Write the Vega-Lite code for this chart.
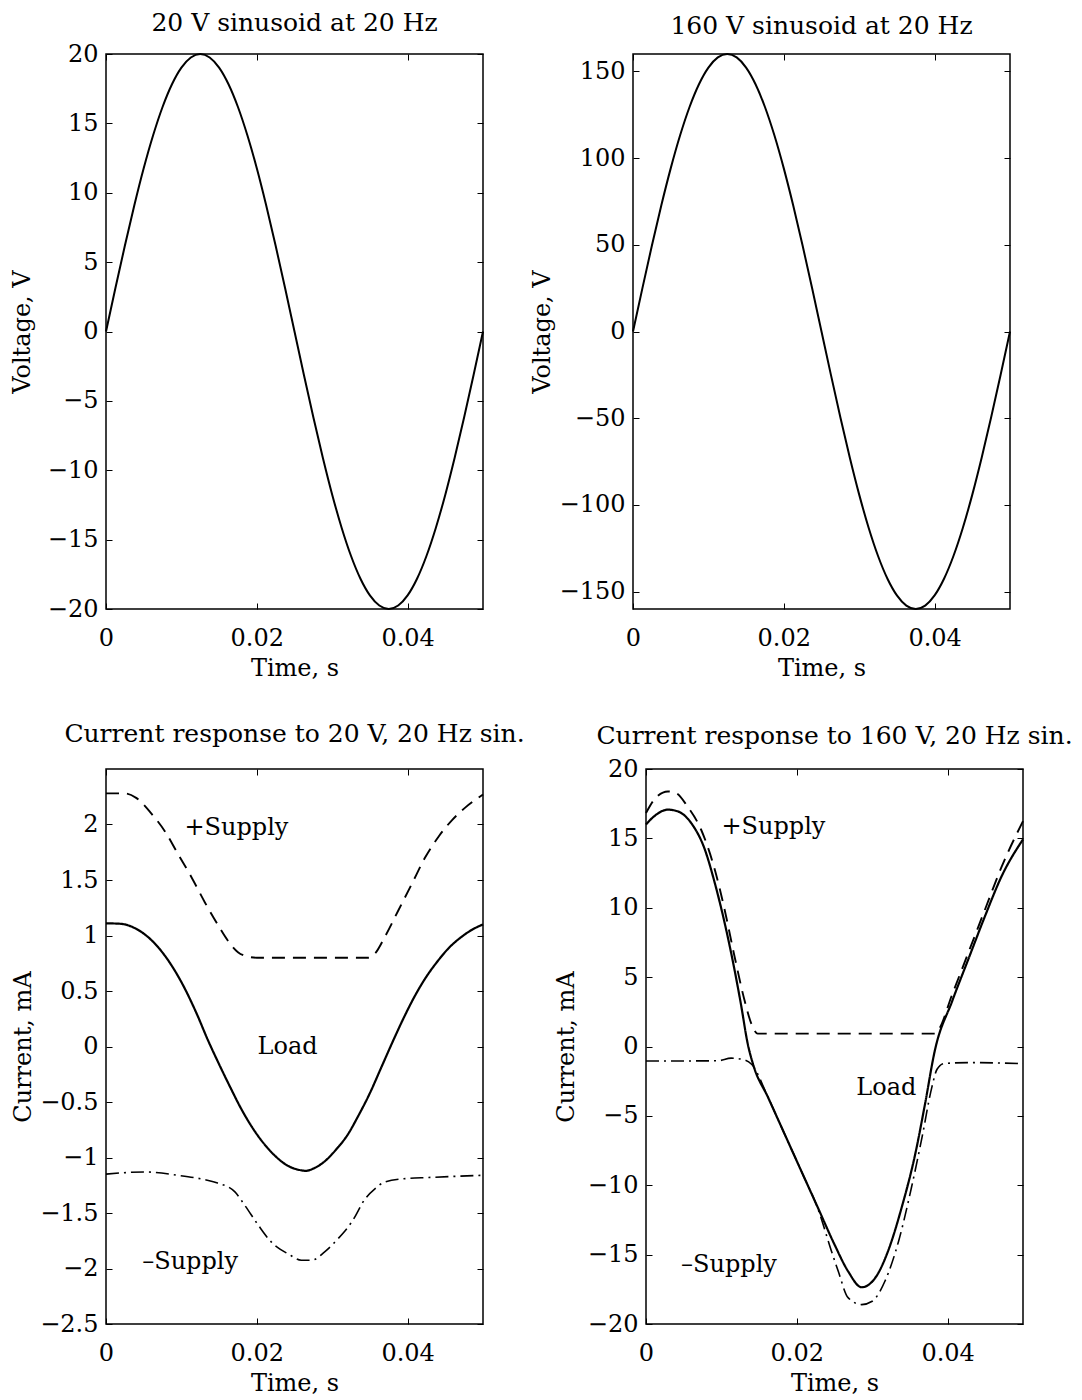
{
  "$schema": "https://vega.github.io/schema/vega-lite/v6.json",
  "background": "white",
  "padding": {"left": 9, "top": 10, "right": 0, "bottom": 0},
  "datasets": {
    "sine": [
      {"t": 0, "v20": 0, "v160": 0},
      {"t": 0.00125, "v20": 3.13, "v160": 25.03},
      {"t": 0.0025, "v20": 6.18, "v160": 49.44},
      {"t": 0.00375, "v20": 9.08, "v160": 72.64},
      {"t": 0.005, "v20": 11.76, "v160": 94.05},
      {"t": 0.00625, "v20": 14.14, "v160": 113.14},
      {"t": 0.0075, "v20": 16.18, "v160": 129.44},
      {"t": 0.00875, "v20": 17.82, "v160": 142.56},
      {"t": 0.01, "v20": 19.02, "v160": 152.17},
      {"t": 0.01125, "v20": 19.75, "v160": 158.03},
      {"t": 0.0125, "v20": 20, "v160": 160},
      {"t": 0.01375, "v20": 19.75, "v160": 158.03},
      {"t": 0.015, "v20": 19.02, "v160": 152.17},
      {"t": 0.01625, "v20": 17.82, "v160": 142.56},
      {"t": 0.0175, "v20": 16.18, "v160": 129.44},
      {"t": 0.01875, "v20": 14.14, "v160": 113.14},
      {"t": 0.02, "v20": 11.76, "v160": 94.05},
      {"t": 0.02125, "v20": 9.08, "v160": 72.64},
      {"t": 0.0225, "v20": 6.18, "v160": 49.44},
      {"t": 0.02375, "v20": 3.13, "v160": 25.03},
      {"t": 0.025, "v20": 0, "v160": 0},
      {"t": 0.02625, "v20": -3.13, "v160": -25.03},
      {"t": 0.0275, "v20": -6.18, "v160": -49.44},
      {"t": 0.02875, "v20": -9.08, "v160": -72.64},
      {"t": 0.03, "v20": -11.76, "v160": -94.05},
      {"t": 0.03125, "v20": -14.14, "v160": -113.14},
      {"t": 0.0325, "v20": -16.18, "v160": -129.44},
      {"t": 0.03375, "v20": -17.82, "v160": -142.56},
      {"t": 0.035, "v20": -19.02, "v160": -152.17},
      {"t": 0.03625, "v20": -19.75, "v160": -158.03},
      {"t": 0.0375, "v20": -20, "v160": -160},
      {"t": 0.03875, "v20": -19.75, "v160": -158.03},
      {"t": 0.04, "v20": -19.02, "v160": -152.17},
      {"t": 0.04125, "v20": -17.82, "v160": -142.56},
      {"t": 0.0425, "v20": -16.18, "v160": -129.44},
      {"t": 0.04375, "v20": -14.14, "v160": -113.14},
      {"t": 0.045, "v20": -11.76, "v160": -94.05},
      {"t": 0.04625, "v20": -9.08, "v160": -72.64},
      {"t": 0.0475, "v20": -6.18, "v160": -49.44},
      {"t": 0.04875, "v20": -3.13, "v160": -25.03},
      {"t": 0.05, "v20": 0, "v160": 0}
    ],
    "cur20": [
      {"t": 0, "i": 1.11, "s": "Load"},
      {"t": 0.002, "i": 1.105, "s": "Load"},
      {"t": 0.004, "i": 1.06, "s": "Load"},
      {"t": 0.006, "i": 0.96, "s": "Load"},
      {"t": 0.008, "i": 0.80, "s": "Load"},
      {"t": 0.01, "i": 0.58, "s": "Load"},
      {"t": 0.012, "i": 0.30, "s": "Load"},
      {"t": 0.0135, "i": 0.06, "s": "Load"},
      {"t": 0.015, "i": -0.16, "s": "Load"},
      {"t": 0.0165, "i": -0.37, "s": "Load"},
      {"t": 0.018, "i": -0.57, "s": "Load"},
      {"t": 0.0195, "i": -0.74, "s": "Load"},
      {"t": 0.021, "i": -0.88, "s": "Load"},
      {"t": 0.0225, "i": -0.99, "s": "Load"},
      {"t": 0.024, "i": -1.07, "s": "Load"},
      {"t": 0.0255, "i": -1.11, "s": "Load"},
      {"t": 0.0265, "i": -1.12, "s": "Load"},
      {"t": 0.0275, "i": -1.10, "s": "Load"},
      {"t": 0.029, "i": -1.035, "s": "Load"},
      {"t": 0.0305, "i": -0.93, "s": "Load"},
      {"t": 0.032, "i": -0.80, "s": "Load"},
      {"t": 0.0335, "i": -0.62, "s": "Load"},
      {"t": 0.035, "i": -0.42, "s": "Load"},
      {"t": 0.0365, "i": -0.19, "s": "Load"},
      {"t": 0.038, "i": 0.04, "s": "Load"},
      {"t": 0.0395, "i": 0.26, "s": "Load"},
      {"t": 0.041, "i": 0.46, "s": "Load"},
      {"t": 0.0425, "i": 0.63, "s": "Load"},
      {"t": 0.044, "i": 0.77, "s": "Load"},
      {"t": 0.0455, "i": 0.89, "s": "Load"},
      {"t": 0.047, "i": 0.98, "s": "Load"},
      {"t": 0.0485, "i": 1.05, "s": "Load"},
      {"t": 0.05, "i": 1.10, "s": "Load"},
      {"t": 0, "i": 2.28, "s": "+Supply"},
      {"t": 0.0025, "i": 2.28, "s": "+Supply"},
      {"t": 0.004, "i": 2.24, "s": "+Supply"},
      {"t": 0.006, "i": 2.10, "s": "+Supply"},
      {"t": 0.0078, "i": 1.94, "s": "+Supply"},
      {"t": 0.0095, "i": 1.74, "s": "+Supply"},
      {"t": 0.0113, "i": 1.53, "s": "+Supply"},
      {"t": 0.0131, "i": 1.30, "s": "+Supply"},
      {"t": 0.0148, "i": 1.10, "s": "+Supply"},
      {"t": 0.0162, "i": 0.95, "s": "+Supply"},
      {"t": 0.0175, "i": 0.85, "s": "+Supply"},
      {"t": 0.0188, "i": 0.81, "s": "+Supply"},
      {"t": 0.02, "i": 0.80, "s": "+Supply"},
      {"t": 0.025, "i": 0.80, "s": "+Supply"},
      {"t": 0.03, "i": 0.80, "s": "+Supply"},
      {"t": 0.0348, "i": 0.80, "s": "+Supply"},
      {"t": 0.0357, "i": 0.84, "s": "+Supply"},
      {"t": 0.037, "i": 0.99, "s": "+Supply"},
      {"t": 0.0388, "i": 1.23, "s": "+Supply"},
      {"t": 0.0406, "i": 1.47, "s": "+Supply"},
      {"t": 0.0423, "i": 1.70, "s": "+Supply"},
      {"t": 0.0441, "i": 1.89, "s": "+Supply"},
      {"t": 0.0459, "i": 2.04, "s": "+Supply"},
      {"t": 0.0476, "i": 2.15, "s": "+Supply"},
      {"t": 0.05, "i": 2.27, "s": "+Supply"},
      {"t": 0, "i": -1.15, "s": "-Supply"},
      {"t": 0.0051, "i": -1.13, "s": "-Supply"},
      {"t": 0.0095, "i": -1.16, "s": "-Supply"},
      {"t": 0.0131, "i": -1.20, "s": "-Supply"},
      {"t": 0.0148, "i": -1.23, "s": "-Supply"},
      {"t": 0.0171, "i": -1.31, "s": "-Supply"},
      {"t": 0.0184, "i": -1.43, "s": "-Supply"},
      {"t": 0.0202, "i": -1.61, "s": "-Supply"},
      {"t": 0.0219, "i": -1.76, "s": "-Supply"},
      {"t": 0.0242, "i": -1.87, "s": "-Supply"},
      {"t": 0.0259, "i": -1.925, "s": "-Supply"},
      {"t": 0.0273, "i": -1.925, "s": "-Supply"},
      {"t": 0.029, "i": -1.85, "s": "-Supply"},
      {"t": 0.0308, "i": -1.73, "s": "-Supply"},
      {"t": 0.0326, "i": -1.58, "s": "-Supply"},
      {"t": 0.0344, "i": -1.37, "s": "-Supply"},
      {"t": 0.0357, "i": -1.28, "s": "-Supply"},
      {"t": 0.037, "i": -1.22, "s": "-Supply"},
      {"t": 0.0397, "i": -1.19, "s": "-Supply"},
      {"t": 0.0428, "i": -1.18, "s": "-Supply"},
      {"t": 0.05, "i": -1.16, "s": "-Supply"}
    ],
    "cur160": [
      {"t": 0, "i": 16.0, "s": "Load"},
      {"t": 0.0011, "i": 16.6, "s": "Load"},
      {"t": 0.0029, "i": 17.07, "s": "Load"},
      {"t": 0.0042, "i": 16.95, "s": "Load"},
      {"t": 0.006, "i": 16.1, "s": "Load"},
      {"t": 0.0078, "i": 14.2, "s": "Load"},
      {"t": 0.0091, "i": 11.83, "s": "Load"},
      {"t": 0.0104, "i": 8.98, "s": "Load"},
      {"t": 0.0117, "i": 5.64, "s": "Load"},
      {"t": 0.0126, "i": 3.02, "s": "Load"},
      {"t": 0.0135, "i": 0.17, "s": "Load"},
      {"t": 0.0142, "i": -1.28, "s": "Load"},
      {"t": 0.0162, "i": -3.68, "s": "Load"},
      {"t": 0.0184, "i": -6.33, "s": "Load"},
      {"t": 0.0206, "i": -8.98, "s": "Load"},
      {"t": 0.0228, "i": -11.62, "s": "Load"},
      {"t": 0.025, "i": -14.27, "s": "Load"},
      {"t": 0.0268, "i": -16.2, "s": "Load"},
      {"t": 0.0286, "i": -17.35, "s": "Load"},
      {"t": 0.0304, "i": -16.68, "s": "Load"},
      {"t": 0.0321, "i": -14.75, "s": "Load"},
      {"t": 0.0339, "i": -11.62, "s": "Load"},
      {"t": 0.0357, "i": -7.77, "s": "Load"},
      {"t": 0.037, "i": -4.16, "s": "Load"},
      {"t": 0.0383, "i": -0.31, "s": "Load"},
      {"t": 0.0406, "i": 3.26, "s": "Load"},
      {"t": 0.0428, "i": 6.36, "s": "Load"},
      {"t": 0.045, "i": 9.45, "s": "Load"},
      {"t": 0.0472, "i": 12.31, "s": "Load"},
      {"t": 0.05, "i": 14.93, "s": "Load"},
      {"t": 0, "i": 16.83, "s": "+Supply"},
      {"t": 0.0011, "i": 17.8, "s": "+Supply"},
      {"t": 0.0029, "i": 18.38, "s": "+Supply"},
      {"t": 0.004, "i": 18.26, "s": "+Supply"},
      {"t": 0.0055, "i": 17.3, "s": "+Supply"},
      {"t": 0.0073, "i": 15.64, "s": "+Supply"},
      {"t": 0.0091, "i": 12.79, "s": "+Supply"},
      {"t": 0.0104, "i": 9.93, "s": "+Supply"},
      {"t": 0.0117, "i": 6.6, "s": "+Supply"},
      {"t": 0.0131, "i": 3.26, "s": "+Supply"},
      {"t": 0.014, "i": 1.6, "s": "+Supply"},
      {"t": 0.0148, "i": 0.93, "s": "+Supply"},
      {"t": 0.0383, "i": 0.93, "s": "+Supply"},
      {"t": 0.0388, "i": 1.2, "s": "+Supply"},
      {"t": 0.0406, "i": 3.74, "s": "+Supply"},
      {"t": 0.0428, "i": 6.83, "s": "+Supply"},
      {"t": 0.045, "i": 9.93, "s": "+Supply"},
      {"t": 0.0472, "i": 13.0, "s": "+Supply"},
      {"t": 0.05, "i": 16.24, "s": "+Supply"},
      {"t": 0, "i": -1.05, "s": "-Supply"},
      {"t": 0.0095, "i": -1.03, "s": "-Supply"},
      {"t": 0.0113, "i": -0.84, "s": "-Supply"},
      {"t": 0.0126, "i": -0.91, "s": "-Supply"},
      {"t": 0.014, "i": -1.28, "s": "-Supply"},
      {"t": 0.0162, "i": -3.68, "s": "-Supply"},
      {"t": 0.0184, "i": -6.33, "s": "-Supply"},
      {"t": 0.0206, "i": -8.98, "s": "-Supply"},
      {"t": 0.0228, "i": -11.7, "s": "-Supply"},
      {"t": 0.0246, "i": -14.75, "s": "-Supply"},
      {"t": 0.0255, "i": -16.2, "s": "-Supply"},
      {"t": 0.0268, "i": -18.1, "s": "-Supply"},
      {"t": 0.0286, "i": -18.6, "s": "-Supply"},
      {"t": 0.03, "i": -18.36, "s": "-Supply"},
      {"t": 0.0317, "i": -16.9, "s": "-Supply"},
      {"t": 0.0335, "i": -14.03, "s": "-Supply"},
      {"t": 0.0352, "i": -10.18, "s": "-Supply"},
      {"t": 0.0366, "i": -6.57, "s": "-Supply"},
      {"t": 0.0379, "i": -2.96, "s": "-Supply"},
      {"t": 0.0386, "i": -1.64, "s": "-Supply"},
      {"t": 0.0395, "i": -1.23, "s": "-Supply"},
      {"t": 0.0428, "i": -1.16, "s": "-Supply"},
      {"t": 0.05, "i": -1.23, "s": "-Supply"}
    ],
    "lab20": [
      {"t": 0.0104, "i": 1.97, "label": "+Supply"},
      {"t": 0.0201, "i": 0.0, "label": "Load"},
      {"t": 0.0048, "i": -1.94, "label": "–Supply"}
    ],
    "lab160": [
      {"t": 0.0100, "i": 15.8, "label": "+Supply"},
      {"t": 0.0279, "i": -2.99, "label": "Load"},
      {"t": 0.00465, "i": -15.77, "label": "–Supply"}
    ]
  },
  "spacing": 39,
  "vconcat": [
    {
      "spacing": 41,
      "hconcat": [
        {
          "width": 377, "height": 555,
          "title": {"text": "20 V sinusoid at 20 Hz", "offset": 6},
          "data": {"name": "sine"},
          "layer": [
            {
              "mark": {"type": "line", "color": "black", "strokeWidth": 2, "interpolate": "monotone"},
              "encoding": {
                "x": {"field": "t", "type": "quantitative", "scale": {"domain": [0, 0.05], "nice": false, "zero": false},
                      "axis": {"title": "Time, s", "values": [0, 0.02, 0.04], "format": "~r"}},
                "y": {"field": "v20", "type": "quantitative", "scale": {"domain": [-20, 20], "nice": false, "zero": false},
                      "axis": {"title": "Voltage, V", "values": [-20, -15, -10, -5, 0, 5, 10, 15, 20], "format": "~r", "titlePadding": 13}}
              }
            },
            {
              "mark": {"type": "line", "strokeOpacity": 0},
              "encoding": {
                "x": {"field": "t", "type": "quantitative", "scale": {"domain": [0, 0.05], "nice": false, "zero": false},
                      "axis": {"orient": "top", "title": null, "labels": false, "values": [0, 0.02, 0.04]}},
                "y": {"field": "v20", "type": "quantitative", "scale": {"domain": [-20, 20], "nice": false, "zero": false},
                      "axis": {"orient": "right", "title": null, "labels": false, "values": [-20, -15, -10, -5, 0, 5, 10, 15, 20]}}
              }
            }
          ],
          "resolve": {"axis": {"x": "independent", "y": "independent"}}
        },
        {
          "width": 377, "height": 555,
          "title": {"text": "160 V sinusoid at 20 Hz", "offset": 11},
          "data": {"name": "sine"},
          "layer": [
            {
              "mark": {"type": "line", "color": "black", "strokeWidth": 2, "interpolate": "monotone"},
              "encoding": {
                "x": {"field": "t", "type": "quantitative", "scale": {"domain": [0, 0.05], "nice": false, "zero": false},
                      "axis": {"title": "Time, s", "values": [0, 0.02, 0.04], "format": "~r"}},
                "y": {"field": "v160", "type": "quantitative", "scale": {"domain": [-160, 160], "nice": false, "zero": false},
                      "axis": {"title": "Voltage, V", "values": [-150, -100, -50, 0, 50, 100, 150], "format": "~r", "titlePadding": 5}}
              }
            },
            {
              "mark": {"type": "line", "strokeOpacity": 0},
              "encoding": {
                "x": {"field": "t", "type": "quantitative", "scale": {"domain": [0, 0.05], "nice": false, "zero": false},
                      "axis": {"orient": "top", "title": null, "labels": false, "values": [0, 0.02, 0.04]}},
                "y": {"field": "v160", "type": "quantitative", "scale": {"domain": [-160, 160], "nice": false, "zero": false},
                      "axis": {"orient": "right", "title": null, "labels": false, "values": [-150, -100, -50, 0, 50, 100, 150]}}
              }
            }
          ],
          "resolve": {"axis": {"x": "independent", "y": "independent"}}
        }
      ]
    },
    {
      "spacing": 27,
      "hconcat": [
        {
          "width": 377, "height": 555,
          "title": {"text": "Current response to 20 V, 20 Hz sin.", "offset": 22},
          "layer": [
            {
              "data": {"name": "cur20"},
              "mark": {"type": "line", "color": "black", "interpolate": "monotone"},
              "encoding": {
                "x": {"field": "t", "type": "quantitative", "scale": {"domain": [0, 0.05], "nice": false, "zero": false},
                      "axis": {"title": "Time, s", "values": [0, 0.02, 0.04], "format": "~r"}},
                "y": {"field": "i", "type": "quantitative", "scale": {"domain": [-2.5, 2.5], "nice": false, "zero": false},
                      "axis": {"title": "Current, mA", "values": [-2.5, -2, -1.5, -1, -0.5, 0, 0.5, 1, 1.5, 2], "format": "~r", "titlePadding": 4}},
                "strokeDash": {"field": "s", "type": "nominal", "legend": null,
                               "scale": {"domain": ["Load", "+Supply", "-Supply"], "range": [[1, 0], [13, 8], [13, 5, 2, 5]]}},
                "strokeWidth": {"field": "s", "type": "nominal", "legend": null,
                                "scale": {"domain": ["Load", "+Supply", "-Supply"], "range": [2.2, 1.6, 1.6]}}
              }
            },
            {
              "data": {"name": "lab20"},
              "mark": {"type": "text", "align": "left", "baseline": "middle", "font": "DejaVu Serif", "fontSize": 24, "color": "black"},
              "encoding": {
                "x": {"field": "t", "type": "quantitative", "scale": {"domain": [0, 0.05], "nice": false, "zero": false},
                      "axis": {"orient": "top", "title": null, "labels": false, "values": [0, 0.02, 0.04]}},
                "y": {"field": "i", "type": "quantitative", "scale": {"domain": [-2.5, 2.5], "nice": false, "zero": false},
                      "axis": {"orient": "right", "title": null, "labels": false, "values": [-2.5, -2, -1.5, -1, -0.5, 0, 0.5, 1, 1.5, 2]}},
                "text": {"field": "label", "type": "nominal"}
              }
            }
          ],
          "resolve": {"axis": {"x": "independent", "y": "independent"}}
        },
        {
          "width": 377, "height": 555,
          "title": {"text": "Current response to 160 V, 20 Hz sin.", "offset": 8},
          "layer": [
            {
              "data": {"name": "cur160"},
              "mark": {"type": "line", "color": "black", "interpolate": "monotone"},
              "encoding": {
                "x": {"field": "t", "type": "quantitative", "scale": {"domain": [0, 0.05], "nice": false, "zero": false},
                      "axis": {"title": "Time, s", "values": [0, 0.02, 0.04], "format": "~r"}},
                "y": {"field": "i", "type": "quantitative", "scale": {"domain": [-20, 20], "nice": false, "zero": false},
                      "axis": {"title": "Current, mA", "values": [-20, -15, -10, -5, 0, 5, 10, 15, 20], "format": "~r", "titlePadding": 9}},
                "strokeDash": {"field": "s", "type": "nominal", "legend": null,
                               "scale": {"domain": ["Load", "+Supply", "-Supply"], "range": [[1, 0], [13, 8], [13, 5, 2, 5]]}},
                "strokeWidth": {"field": "s", "type": "nominal", "legend": null,
                                "scale": {"domain": ["Load", "+Supply", "-Supply"], "range": [2.2, 1.6, 1.6]}}
              }
            },
            {
              "data": {"name": "lab160"},
              "mark": {"type": "text", "align": "left", "baseline": "middle", "font": "DejaVu Serif", "fontSize": 24, "color": "black"},
              "encoding": {
                "x": {"field": "t", "type": "quantitative", "scale": {"domain": [0, 0.05], "nice": false, "zero": false},
                      "axis": {"orient": "top", "title": null, "labels": false, "values": [0, 0.02, 0.04]}},
                "y": {"field": "i", "type": "quantitative", "scale": {"domain": [-20, 20], "nice": false, "zero": false},
                      "axis": {"orient": "right", "title": null, "labels": false, "values": [-20, -15, -10, -5, 0, 5, 10, 15, 20]}},
                "text": {"field": "label", "type": "nominal"}
              }
            }
          ],
          "resolve": {"axis": {"x": "independent", "y": "independent"}}
        }
      ]
    }
  ],
  "config": {
    "font": "DejaVu Serif",
    "view": {"stroke": "black", "strokeWidth": 1.5},
    "axis": {
      "labelFont": "DejaVu Serif", "labelFontSize": 24, "labelColor": "black",
      "titleFont": "DejaVu Serif", "titleFontSize": 24, "titleFontWeight": "normal", "titleColor": "black",
      "domain": false, "grid": false, "tickColor": "black", "tickSize": -6, "tickWidth": 1,
      "labelOverlap": false, "labelFlush": false
    },
    "axisX": {"labelPadding": 23, "titlePadding": 6},
    "axisY": {"labelPadding": 14},
    "title": {"font": "DejaVu Serif", "fontSize": 25, "fontWeight": "normal", "color": "black", "offset": 22, "baseline": "alphabetic"}
  }
}
